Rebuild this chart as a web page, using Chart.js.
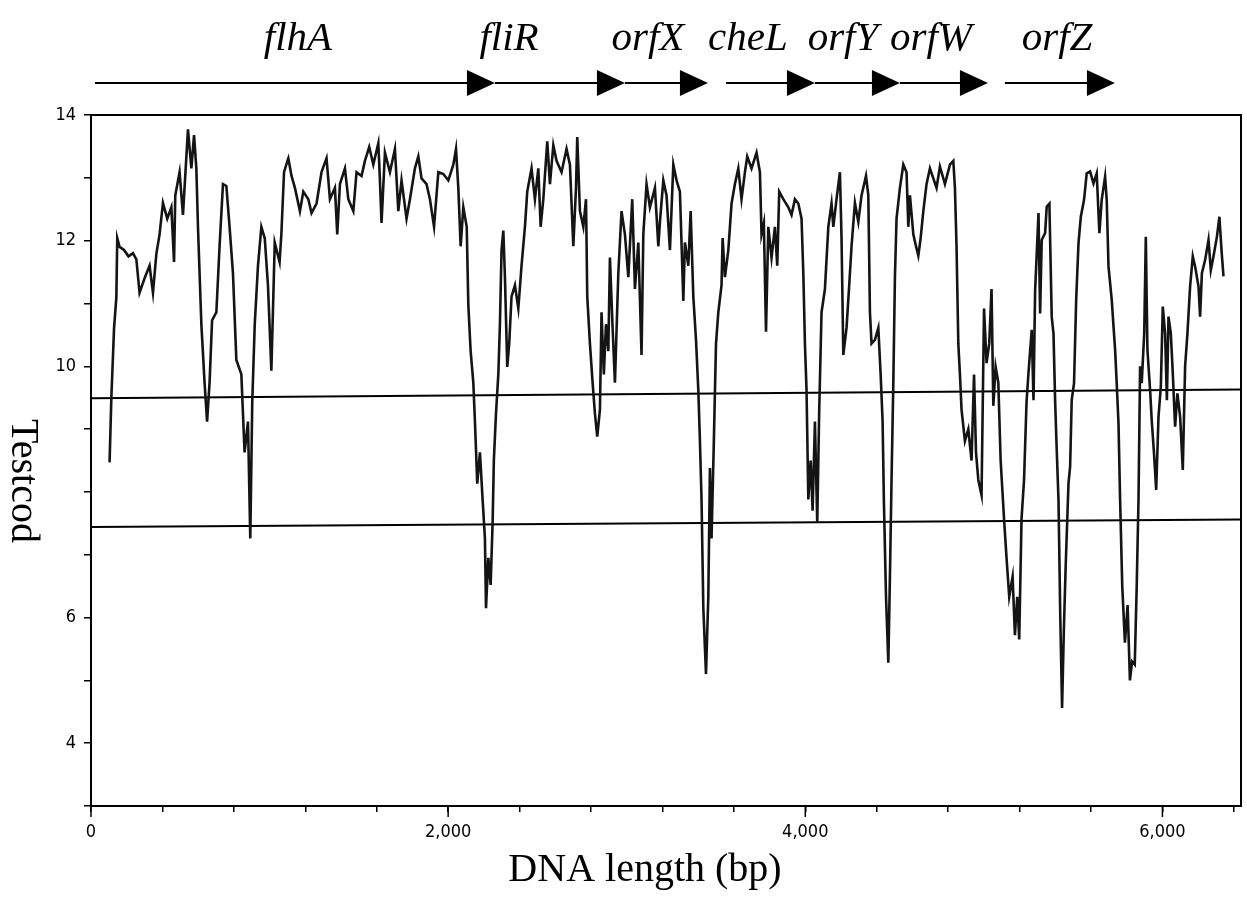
<!DOCTYPE html>
<html>
<head>
<meta charset="utf-8">
<script src="https://cdn.jsdelivr.net/npm/chart.js@4.4.1/dist/chart.umd.min.js"></script>
<style>
html, body { margin: 0; padding: 0; background: #fff; }
</style>
</head>
<body>
<canvas id="myChart" width="1247" height="897"></canvas>
<script>
// Testcod profile along the DNA (bp positions and values)
const positions = [104,114,129,142,147,160,185,210,235,254,272,300,328,347,366,384,403,427,450,465,472,496,515,543,562,577,590,599,618,636,650,664,678,702,720,739,758,776,795,814,842,860,879,892,903,917,935,954,973,991,1010,1029,1056,1066,1081,1100,
  1105,1123,1142,1170,1189,1217,1235,1263,1291,1319,1338,1366,1379,1394,1422,1441,1469,1487,1515,1534,1558,1581,1609,1618,1627,1646,1674,1702,1721,1739,1767,1786,1814,1833,1851,1879,1898,1921,1945,1973,2001,2029,2044,2057,2070,2085,2104,2113,2126,2141,2150,2163,
  2178,2193,2206,2212,2225,2238,2249,2256,2268,2281,2290,2299,2309,2318,2331,2342,2355,2374,2393,2411,2430,2443,2467,2486,2505,2518,2533,2555,2570,2589,2607,2635,2663,2682,2701,2716,2723,2738,2757,2772,2779,2794,2809,2822,2835,2850,2859,2872,2884,2897,2906,2921,2934,2953,2971,2990,3009,3031,3046,3065,3083,3093,3111,3130,3158,3177,3186,
  3205,3223,3242,3261,3279,3298,3317,3326,3345,3358,3373,3388,3401,3410,3419,3429,3444,3457,3466,3475,3488,3500,3513,3531,3537,3550,3569,3587,3606,3625,3643,3662,3675,3699,3727,3746,3755,3768,3780,3793,3811,3830,3843,3854,3877,3905,3923,3942,3961,3979,3989,3998,4007,4017,4030,4041,4054,4067,4078,4091,4110,4129,4147,4157,4175,4194,4203,4213,4231,4246,4259,4278,4297,
  4315,4340,4353,4362,4371,4390,4409,4422,4433,4440,4452,4465,4474,4483,4493,4502,4511,4530,4549,4567,4577,4586,4605,4620,4633,4646,4661,4679,4698,4735,4754,4782,4810,4829,4838,4847,4857,4866,4875,4894,4913,4931,4945,4956,4969,4987,5001,5015,5030,5043,5053,5066,5081,5094,5113,5127,5142,5161,5174,5187,5198,5211,5225,5239,
  5250,5268,5278,5287,5306,5315,5324,5343,5352,5367,5380,5390,5399,5408,5418,5428,5438,5448,5458,5474,5483,5492,5505,5517,5530,5543,5561,5576,5595,5614,5632,5647,5660,5679,5688,5698,5716,5735,5744,5754,5763,5775,5790,5805,5818,5830,5845,5856,5866,5875,5884,5898,5907,5916,5931,5940,5953,5965,5978,5991,6002,6015,6025,6034,6047,6058,6071,6084,6099,6114,6127,6140,6155,6170,6183,6202,6211,6221,6239,6258,6271,6286,6305,6319,6332,6342];
const testcod = [8.47,9.5,10.6,11.1,12.04,11.9,11.85,11.75,11.8,11.7,11.17,11.4,11.6,11.17,11.79,12.1,12.6,12.35,12.53,11.66,12.72,13.09,12.41,13.77,13.15,13.68,13.15,12.22,10.67,9.74,9.12,9.74,10.73,10.86,11.91,12.9,12.87,12.22,11.48,10.1,9.87,8.63,9.12,7.26,9.43,10.67,11.6,12.22,12.04,11.29,9.93,11.97,11.66,12.1,13.09,13.27,
  13.31,13.03,12.84,12.47,12.78,12.66,12.44,12.59,13.09,13.31,12.66,12.84,12.1,12.9,13.15,12.66,12.47,13.09,13.03,13.27,13.49,13.21,13.55,12.96,12.28,13.4,13.09,13.46,12.47,12.96,12.35,12.66,13.15,13.34,12.99,12.9,12.66,12.22,13.09,13.06,12.96,13.21,13.46,12.84,11.91,12.53,12.22,10.98,10.24,9.74,9.12,8.13,
  8.63,7.88,7.26,6.15,6.95,6.52,7.51,8.5,9.25,9.87,10.67,11.85,12.16,11.42,9.99,10.36,11.11,11.29,10.92,11.6,12.22,12.78,13.15,12.66,13.15,12.22,12.66,13.58,12.9,13.52,13.27,13.09,13.46,13.21,11.91,12.84,13.65,12.47,12.22,12.66,11.11,10.36,9.74,9.25,8.88,9.31,10.86,9.87,10.67,10.24,11.73,10.61,9.74,11.48,12.47,12.1,11.42,12.66,11.23,11.97,10.18,12.1,12.9,12.53,12.84,11.91,12.3,
  12.96,12.72,11.85,13.21,12.96,12.78,11.04,11.97,11.6,12.47,11.11,10.42,9.62,8.81,7.88,6.15,5.1,6.34,8.38,7.26,8.81,10.36,10.86,11.29,12.04,11.42,11.85,12.59,12.9,13.15,12.66,13.09,13.34,13.15,13.4,13.09,12.1,12.28,10.55,12.22,11.73,12.22,11.6,12.78,12.66,12.53,12.41,12.66,12.59,12.35,11.48,10.36,9.62,7.88,8.5,7.7,9.12,7.51,9.31,10.86,11.23,12.22,12.59,12.22,12.66,13.09,12.04,10.18,10.61,11.29,11.91,12.6,12.3,
  12.72,13.03,12.72,10.86,10.36,10.42,10.61,9.87,9.12,7.88,6.33,5.28,6.65,8.19,9.74,11.42,12.35,12.84,13.21,13.09,12.22,12.72,12.1,11.91,11.76,12.04,12.47,12.9,13.15,12.84,13.18,12.9,13.21,13.27,12.84,11.91,10.36,9.87,9.31,8.81,9.0,8.5,9.87,8.63,8.19,7.95,10.92,10.05,10.36,11.23,9.37,9.99,9.74,8.5,7.57,6.95,6.33,6.65,5.72,6.33,5.65,7.57,8.19,9.43,
  9.9,10.58,9.46,11.2,12.44,10.84,12.01,12.12,12.54,12.59,10.79,10.52,9.46,8.67,7.87,6.0,4.56,5.8,6.8,8.14,8.4,9.46,9.73,11.06,11.96,12.38,12.65,13.07,13.1,12.91,13.07,12.12,12.65,13.02,12.65,11.59,11.06,10.26,9.73,9.09,7.87,6.5,5.6,6.2,5.0,5.3,5.25,6.5,7.87,10.0,9.73,10.52,12.06,10.26,9.62,9.14,8.61,8.03,9.2,9.67,10.95,10.52,9.46,10.79,10.52,9.89,9.04,9.57,9.2,8.35,10.0,10.52,11.27,11.75,11.59,11.27,10.79,11.48,11.69,12.01,11.53,11.75,12.06,12.38,11.8,11.43];

// cut-off lines (value at left end, value at right end)
const lineEnds = [0, 6440];
const upperCutoff = [9.49, 9.63];
const lowerCutoff = [7.44, 7.56];

// genes drawn as arrows above the plot (bp)
const geneNames = ['flhA', 'fliR', 'orfX', 'cheL', 'orfY', 'orfW', 'orfZ'];
const geneStart = [22, 2262, 2990, 3556, 4054, 4530, 5118];
const geneEnd = [2262, 2990, 3455, 4054, 4530, 5023, 5734];
const geneLabelAt = [1159, 2341, 3119, 3679, 4211, 4704, 5410];

// axis ticks
const xTicks = [0, 400, 800, 1200, 1600, 2000, 2400, 2800, 3200, 3600, 4000, 4400, 4800, 5200, 5600, 6000, 6400];
const xLabelled = [0, 2000, 4000, 6000];
const yTicks = [3, 4, 5, 6, 7, 8, 9, 10, 11, 12, 13, 14];
const yLabelled = [4, 6, 10, 12, 14];

const tickFont = "'DejaVu Sans Condensed', 'Liberation Sans Narrow', 'DejaVu Sans Mono', monospace";
const serif = "'Liberation Serif', 'DejaVu Serif', serif";

const frameAndLabels = {
    id: 'frameAndLabels',
    afterDraw(chart) {
        const ctx = chart.ctx;
        const a = chart.chartArea;
        const xs = chart.scales.x;
        ctx.save();
        // box around the plot
        ctx.strokeStyle = '#000';
        ctx.lineWidth = 2;
        ctx.strokeRect(a.left, a.top, a.right - a.left, a.bottom - a.top);

        // longer marks at the labelled x ticks
        ctx.lineWidth = 1.5;
        xLabelled.forEach(v => {
            const px = xs.getPixelForValue(v);
            ctx.beginPath();
            ctx.moveTo(px, a.bottom);
            ctx.lineTo(px, a.bottom + 11);
            ctx.stroke();
        });

        // gene arrows
        const yArrow = 83;
        ctx.fillStyle = '#000';
        ctx.lineWidth = 2;
        for (let i = 0; i < geneNames.length; i++) {
            const x0 = xs.getPixelForValue(geneStart[i]);
            const x1 = xs.getPixelForValue(geneEnd[i]);
            ctx.beginPath();
            ctx.moveTo(x0, yArrow);
            ctx.lineTo(x1 - 20, yArrow);
            ctx.stroke();
            ctx.beginPath();
            ctx.moveTo(x1, yArrow);
            ctx.lineTo(x1 - 28, yArrow - 13);
            ctx.lineTo(x1 - 28, yArrow + 13);
            ctx.closePath();
            ctx.fill();

            ctx.font = 'italic 41px ' + serif;
            ctx.textAlign = 'center';
            ctx.textBaseline = 'alphabetic';
            ctx.fillText(geneNames[i], xs.getPixelForValue(geneLabelAt[i]), 50);
        }

        // axis titles
        ctx.font = '40px ' + serif;
        ctx.textAlign = 'center';
        ctx.fillText('DNA length (bp)', 645, 881);
        ctx.translate(12, 481);
        ctx.rotate(Math.PI / 2);
        ctx.fillText('Testcod', 0, 0);
        ctx.restore();
    }
};

const ctx = document.getElementById('myChart').getContext('2d');
const chart = new Chart(ctx, {
    type: 'line',
    data: {
        datasets: [{
            label: 'Testcod',
            data: positions.map((p, i) => ({ x: p, y: testcod[i] })),
            borderColor: '#141414',
            borderWidth: 2.6,
            pointRadius: 0,
            tension: 0
        }, {
            label: 'upper',
            data: lineEnds.map((p, i) => ({ x: p, y: upperCutoff[i] })),
            borderColor: '#000',
            borderWidth: 2,
            pointRadius: 0
        }, {
            label: 'lower',
            data: lineEnds.map((p, i) => ({ x: p, y: lowerCutoff[i] })),
            borderColor: '#000',
            borderWidth: 2,
            pointRadius: 0
        }]
    },
    options: {
        responsive: false,
        animation: false,
        devicePixelRatio: 1,
        layout: { padding: { top: 115, right: 6, left: 0, bottom: 0 } },
        plugins: {
            legend: { display: false },
            tooltip: { enabled: false }
        },
        scales: {
            x: {
                type: 'linear',
                min: 0,
                max: 6440,
                afterBuildTicks: (s) => { s.ticks = xTicks.map(v => ({ value: v })); },
                afterFit: (s) => { s.height = 91; s.paddingRight = 0; },
                border: { display: true, color: '#000', width: 2 },
                grid: { drawOnChartArea: false, drawTicks: true, tickLength: 6, color: '#000', lineWidth: 1.5 },
                ticks: {
                    autoSkip: false,
                    maxRotation: 0,
                    padding: 10,
                    color: '#000',
                    font: { family: tickFont, size: 18 },
                    callback: (v) => xLabelled.includes(v) ? v.toLocaleString('en-US') : ''
                }
            },
            y: {
                min: 3,
                max: 14,
                afterBuildTicks: (s) => { s.ticks = yTicks.map(v => ({ value: v })); },
                afterFit: (s) => { s.width = 91; },
                border: { display: true, color: '#000', width: 2 },
                grid: { drawOnChartArea: false, drawTicks: true, tickLength: 7, color: '#000', lineWidth: 1.5 },
                ticks: {
                    autoSkip: false,
                    padding: 8,
                    color: '#000',
                    font: { family: tickFont, size: 18 },
                    callback: (v) => yLabelled.includes(v) ? String(v) : ''
                }
            }
        }
    },
    plugins: [frameAndLabels]
});
</script>
</body>
</html>
